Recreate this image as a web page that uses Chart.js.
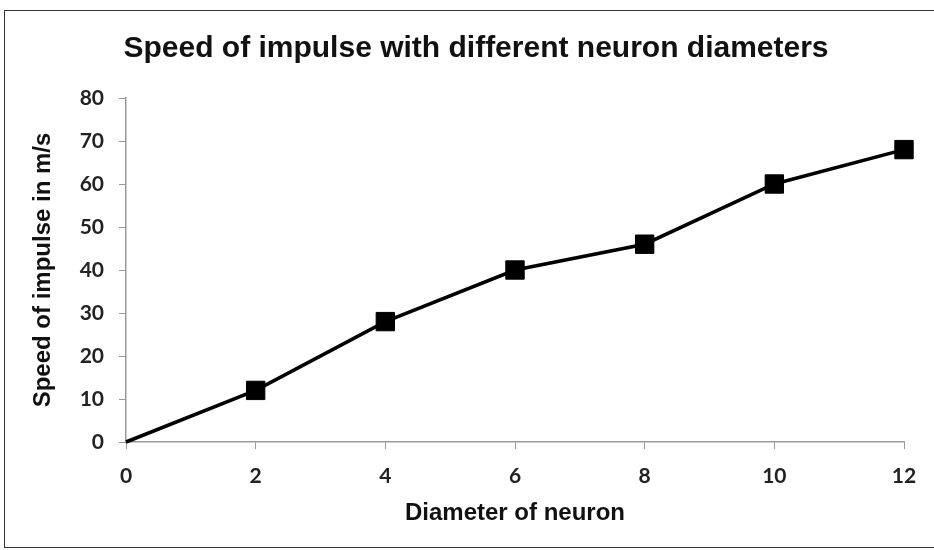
<!DOCTYPE html>
<html>
<head>
<meta charset="utf-8">
<script src="https://cdn.jsdelivr.net/npm/chart.js@4"></script>
<style>
  html, body { margin: 0; padding: 0; background: #fff; }
  #wrap { position: relative; width: 934px; height: 550px; }
  #frame { position: absolute; left: 4px; top: 10px; width: 934px; height: 538px; border: 1.5px solid #333; box-sizing: border-box; }
  canvas { position: absolute; left: 0; top: 0; }
</style>
</head>
<body>
<div id="wrap">
  <div id="frame"></div>
  <canvas id="chart" width="934" height="550"></canvas>
</div>
<script>
// Diameter of neuron vs speed of impulse
const diameters = [0, 2, 4, 6, 8, 10, 12];
const speeds = [0, 12, 28, 40, 46, 60, 68];
const markerSizes = [0, 13, 13, 13, 13, 13, 13];

const tickFont = { family: 'Lato, "Liberation Sans", sans-serif', size: 21, weight: 'bold' };
const axisTitleFont = { family: '"Liberation Sans", Arial, sans-serif', size: 24, weight: 'bold' };

const ctx = document.getElementById('chart').getContext('2d');

new Chart(ctx, {
  type: 'line',
  data: {
    datasets: [{
      label: 'Speed',
      data: diameters.map((d, i) => ({ x: d, y: speeds[i] })),
      borderColor: '#000',
      backgroundColor: '#000',
      borderWidth: 3.5,
      pointStyle: 'rect',
      pointRadius: markerSizes,
      pointHoverRadius: markerSizes,
      pointBorderWidth: 1,
      tension: 0,
      clip: false
    }]
  },
  options: {
    responsive: false,
    animation: false,
    // left padding also centres the main title over the reference position
    layout: { padding: { left: 48, right: 30, top: 10, bottom: 18 } },
    plugins: {
      legend: { display: false },
      tooltip: { enabled: false },
      title: {
        display: true,
        text: 'Speed of impulse with different neuron diameters',
        color: '#111',
        font: { family: '"Liberation Sans", Arial, sans-serif', size: 30, weight: 'bold' },
        padding: { top: 21, bottom: 31 }
      }
    },
    scales: {
      x: {
        type: 'linear',
        min: 0,
        max: 12,
        afterFit: s => { s.height = 90; },
        ticks: { stepSize: 2, color: '#222', font: tickFont, padding: 15 },
        grid: { drawOnChartArea: false, drawTicks: true, tickLength: 7, color: '#999' },
        border: { color: '#999', width: 1.5 },
        title: { display: true, text: 'Diameter of neuron', color: '#111', font: axisTitleFont, padding: { top: 0, bottom: 4 } }
      },
      y: {
        min: 0,
        max: 80,
        afterFit: s => { s.width = 78; },
        ticks: { stepSize: 10, color: '#222', font: tickFont, padding: 15 },
        grid: { drawOnChartArea: false, drawTicks: true, tickLength: 7, color: '#999' },
        border: { color: '#999', width: 1.5 },
        title: { display: true, text: 'Speed of impulse in m/s', color: '#111', font: axisTitleFont, padding: { top: -19, bottom: 0 } }
      }
    }
  }
});
</script>
</body>
</html>
